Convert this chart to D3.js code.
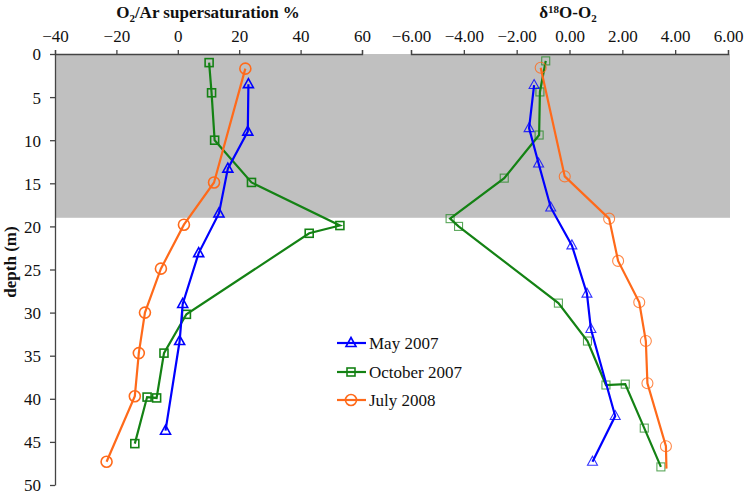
<!DOCTYPE html>
<html>
<head>
<meta charset="utf-8">
<script src="https://cdn.jsdelivr.net/npm/d3@7"></script>
<style>
  body { margin: 0; background: #fff; }
  text { font-family: "Liberation Serif", "Times New Roman", serif; fill: #111; }
</style>
</head>
<body>
<div id="chart"></div>
<script>
// depth profiles
// O2/Ar supersaturation (%)
var mayDepthO2Ar = [3.5, 9, 13.3, 18.5, 23.1, 29, 33.3, 43.7];
var mayO2Ar      = [23, 22.8, 16.3, 13.4, 6.8, 1.6, 0.6, -4];
var octDepthO2Ar = [1, 4.5, 10, 14.9, 19.9, 20.8, 30.2, 34.7, 39.9, 39.8, 45.2];
var octO2Ar      = [10.2, 11, 12, 24, 52.8, 42.8, 2.8, -4.5, -6.9, -10, -14];
var julDepthO2Ar = [1.7, 14.9, 19.8, 24.9, 30, 34.7, 39.7, 47.3];
var julO2Ar      = [22, 11.8, 2, -5.5, -10.7, -12.7, -14, -23.2];

// d18O-O2
var mayDepthD18O = [3.6, 8.6, 12.7, 17.8, 22.2, 27.8, 31.9, 42, 47.3];
var mayD18O      = [-1.34, -1.53, -1.17, -0.71, 0.09, 0.66, 0.81, 1.73, 0.87];
var octDepthD18O = [0.8, 4.4, 9.4, 14.4, 19.1, 20, 28.9, 33.3, 38.4, 38.3, 43.4, 47.9];
var octD18O      = [-0.9, -1.12, -1.15, -2.47, -4.52, -4.2, -0.42, 0.68, 1.38, 2.11, 2.83, 3.46];
var julDepthD18O = [1.6, 14.2, 19.1, 24, 28.8, 33.3, 38.2, 45.5, 48.1];
var julD18O      = [-1.09, -0.18, 1.5, 1.84, 2.64, 2.89, 2.95, 3.65, 3.67];
var julD18ONoMarker = [8];   // last point has no symbol in the figure

var seriesNames = ["May 2007", "October 2007", "July 2008"];
var mixedLayerDepth = 19;

var o2arTicks = [-40, -20, 0, 20, 40, 60];
var d18oTicks = [-6, -4, -2, 0, 2, 4, 6];
var depthTicks = [0, 5, 10, 15, 20, 25, 30, 35, 40, 45, 50];

const width = 744, height = 496;
const colors = ["#0000ff", "#148214", "#ff6a1a"];
const shapes = ["triangle", "square", "circle"];

const svg = d3.select("#chart").append("svg")
  .attr("width", width)
  .attr("height", height);

// scales
const y = d3.scaleLinear().domain([0, 50]).range([54, 485]);
const xL = d3.scaleLinear().domain([-40, 60]).range([55, 362]);
const xR = d3.scaleLinear().domain([-6, 6]).range([411, 728]);

// grey band for the mixed layer, across both panels
svg.append("rect")
  .attr("x", xL(-40))
  .attr("y", y(0))
  .attr("width", 730 - xL(-40))
  .attr("height", y(mixedLayerDepth) - y(0))
  .attr("fill", "#c0c0c0");

// axes
function styleAxis(g) {
  g.selectAll("path, line").attr("stroke", "#444").attr("stroke-width", 1.3);
  g.selectAll("text").style("font-size", "17px").attr("fill", "#111");
}

svg.append("g")
  .attr("transform", `translate(0,${y(0)})`)
  .call(d3.axisTop(xL).tickValues(o2arTicks).tickSize(4).tickSizeOuter(4).tickPadding(8))
  .call(styleAxis);

svg.append("g")
  .attr("transform", `translate(0,${y(0)})`)
  .call(d3.axisTop(xR).tickValues(d18oTicks).tickSize(4).tickSizeOuter(4).tickPadding(8)
    .tickFormat(d3.format(".2f")))
  .call(styleAxis);

svg.append("g")
  .attr("transform", `translate(${xL(-40)},0)`)
  .call(d3.axisLeft(y).tickValues(depthTicks).tickSize(5).tickSizeOuter(0).tickPadding(9))
  .call(styleAxis)
  .call(g => g.selectAll("text").attr("dy", "0.35em"));

// titles
var t1 = svg.append("text")
  .attr("x", 208).attr("y", 18)
  .attr("text-anchor", "middle")
  .style("font-size", "17px").style("font-weight", "bold");
t1.append("tspan").text("O");
t1.append("tspan").text("2").attr("dy", 4).style("font-size", "11px");
t1.append("tspan").text("/Ar supersaturation %").attr("dy", -4);

var t2 = svg.append("text")
  .attr("x", 568).attr("y", 18)
  .attr("text-anchor", "middle")
  .style("font-size", "17px").style("font-weight", "bold");
t2.append("tspan").text("δ");
t2.append("tspan").text("18").attr("dy", -5).style("font-size", "11px");
t2.append("tspan").text("O-O").attr("dy", 5);
t2.append("tspan").text("2").attr("dy", 4).style("font-size", "11px");

svg.append("text")
  .attr("transform", "translate(16,262) rotate(-90)")
  .attr("text-anchor", "middle")
  .style("font-size", "17px").style("font-weight", "bold")
  .text("depth (m)");

// symbols
function marker(g, shape, color, sw) {
  if (shape == "triangle") {
    g.append("path").attr("d", "M0,-5.5L5,3.5L-5,3.5Z");
  } else if (shape == "square") {
    g.append("rect").attr("x", -4).attr("y", -4).attr("width", 8).attr("height", 8);
  } else {
    g.append("circle").attr("r", 5.5);
  }
  g.selectAll("*").attr("fill", "none").attr("stroke", color).attr("stroke-width", sw);
}

const line = d3.line();

function drawSeries(xs, ds, xScale, i, sw, op, skip) {
  skip = skip || [];
  var pts = xs.map((v, k) => [xScale(v), y(ds[k])]);
  svg.append("path")
    .attr("d", line(pts))
    .attr("fill", "none")
    .attr("stroke", colors[i])
    .attr("stroke-width", 2.2);
  pts.forEach(function (p, k) {
    if (skip.indexOf(k) >= 0) return;
    var g = svg.append("g")
      .attr("transform", `translate(${p[0]},${p[1]})`)
      .style("opacity", op);
    marker(g, shapes[i], colors[i], sw);
  });
}

drawSeries(octO2Ar, octDepthO2Ar, xL, 1, 1.6, 1);
drawSeries(julO2Ar, julDepthO2Ar, xL, 2, 1.6, 1);
drawSeries(mayO2Ar, mayDepthO2Ar, xL, 0, 1.6, 1);

drawSeries(octD18O, octDepthD18O, xR, 1, 1.1, 0.7);
drawSeries(julD18O, julDepthD18O, xR, 2, 1.1, 0.8, julD18ONoMarker);
drawSeries(mayD18O, mayDepthD18O, xR, 0, 1.1, 0.8);

// legend
var legendY = [343, 372, 400];
seriesNames.forEach(function (name, i) {
  svg.append("line")
    .attr("x1", 337).attr("x2", 366)
    .attr("y1", legendY[i]).attr("y2", legendY[i])
    .attr("stroke", colors[i]).attr("stroke-width", 2.2);
  var g = svg.append("g").attr("transform", `translate(351,${legendY[i]})`);
  marker(g, shapes[i], colors[i], 1.6);
  svg.append("text")
    .attr("x", 369).attr("y", legendY[i] + 6)
    .style("font-size", "17px")
    .text(name);
});
</script>
</body>
</html>
